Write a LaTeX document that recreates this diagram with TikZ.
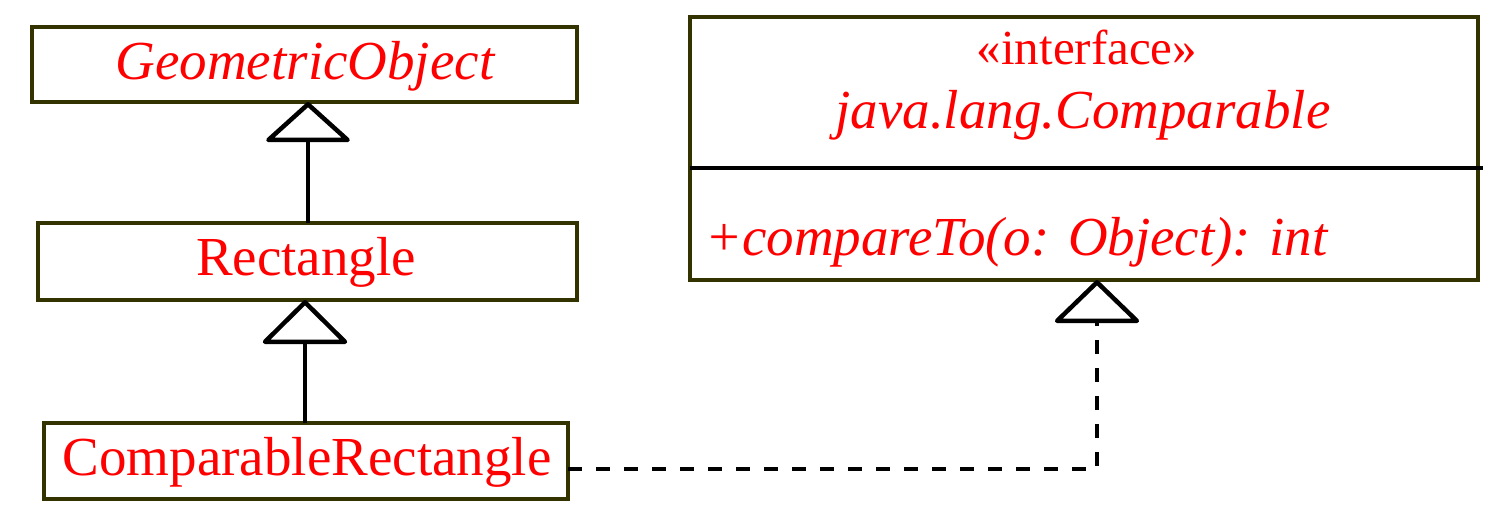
\documentclass[tikz,border=0pt]{standalone}
\usepackage{fontspec}
\setmainfont{Liberation Serif}
\usetikzlibrary{arrows.meta}
\definecolor{olivedk}{RGB}{51,51,0}
\definecolor{umlred}{RGB}{255,0,0}
\begin{document}
\begin{tikzpicture}[x=1pt,y=-1pt,
  umlbox/.style={draw=olivedk, line width=4.5pt, inner sep=0pt, outer sep=0pt, rectangle},
  lbl/.style={text=umlred, inner sep=0pt, outer sep=0pt, font=\fontsize{55}{60}\selectfont},
  conn/.style={draw=black, line width=4.5pt, line join=round},
  gen/.style={-{Triangle[open,length=#1,width=90pt,round]}},
  gen/.default=42pt,
  dashline/.style={dash pattern=on 14pt off 14pt}
]
\useasboundingbox (0,0) rectangle (1510,523);
% class boxes
\node[umlbox, minimum width=545pt, minimum height=75pt] (geo) at (304.5,64.5) {};
\node[umlbox, minimum width=539pt, minimum height=77pt] (rect) at (307.5,261.5) {};
\node[umlbox, minimum width=524pt, minimum height=76pt] (comp) at (306,461) {};
\node[umlbox, minimum width=788pt, minimum height=263pt] (iface) at (1084,148.5) {};
% labels
\node[lbl, anchor=base] (geot) at (305,79) {\itshape GeometricObject};
\node[lbl, anchor=base] (rectt) at (306,275) {Rectangle};
\node[lbl, anchor=base] (compt) at (307,475) {ComparableRectangle};
\node[lbl, anchor=base, font=\fontsize{49}{54}\selectfont] (stereo) at (1087,64) {«interface»};
\node[lbl, anchor=base] (ifacet) at (1083,128) {\itshape java.lang.Comparable};
\node[lbl, anchor=base west] (meth) at (705,255) {\itshape +compareTo(o: Object): int};
% divider
\coordinate (dv) at (1483,168);
\draw[conn] (iface.west |- dv) -- (dv);
% generalisation connectors
\coordinate (l1) at (308,0);
\coordinate (l2) at (305,0);
\draw[conn, gen=41pt] (rect.north -| l1) -- (geo.south -| l1);
\draw[conn, gen=45pt] (comp.north -| l2) -- (rect.south -| l2);
% realisation connector
\coordinate (corner) at (1097,469);
\draw[conn, dashline, gen=44pt] (comp.east |- corner) -- (corner) -- (corner |- iface.south);
\end{tikzpicture}
\end{document}
